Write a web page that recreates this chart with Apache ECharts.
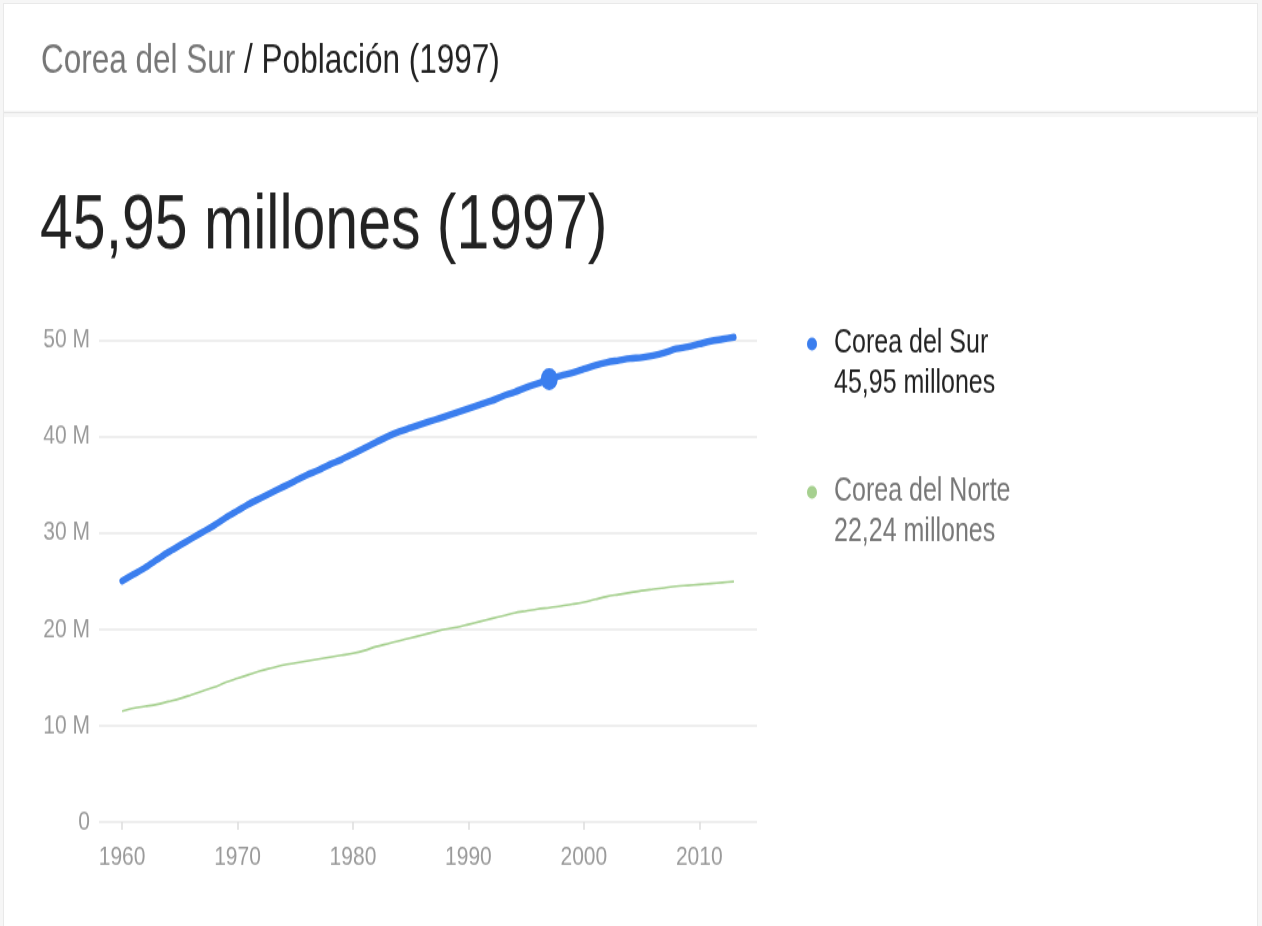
<!DOCTYPE html>
<html>
<head>
<meta charset="utf-8">
<title>Corea del Sur / Población (1997)</title>
<script src="https://cdn.jsdelivr.net/npm/echarts@6/dist/echarts.min.js"></script>
<style>
  html, body { margin: 0; padding: 0; background: #f6f6f6; overflow: hidden; }
  #card {
    position: absolute; left: 3px; top: 3px; width: 1255px; height: 940px;
    background: #ffffff; border: 1px solid #e9e9e9; box-sizing: border-box;
  }
  /* the card is drawn in a 712px tall space and shown 926px tall */
  #chart {
    position: absolute; left: 0; top: 0; width: 1262px; height: 712px;
    transform: scaleY(1.3006); transform-origin: 0 0;
  }
</style>
</head>
<body>
<div id="card"></div>
<div id="chart"></div>
<script>
// Population in millions, one value per year from 1960 to 2013
const years = [
  1960, 1961, 1962, 1963, 1964, 1965, 1966, 1967, 1968, 1969,
  1970, 1971, 1972, 1973, 1974, 1975, 1976, 1977, 1978, 1979,
  1980, 1981, 1982, 1983, 1984, 1985, 1986, 1987, 1988, 1989,
  1990, 1991, 1992, 1993, 1994, 1995, 1996, 1997, 1998, 1999,
  2000, 2001, 2002, 2003, 2004, 2005, 2006, 2007, 2008, 2009,
  2010, 2011, 2012, 2013
];
const coreaDelSur = [
  25.0, 25.7, 26.4, 27.2, 28.0, 28.7, 29.4, 30.1, 30.8, 31.6,
  32.3, 33.0, 33.6, 34.2, 34.8, 35.4, 36.0, 36.5, 37.1, 37.6,
  38.2, 38.8, 39.4, 40.0, 40.5, 40.9, 41.3, 41.7, 42.1, 42.5,
  42.9, 43.3, 43.7, 44.2, 44.6, 45.1, 45.5, 45.95, 46.3, 46.6,
  47.0, 47.4, 47.7, 47.9, 48.1, 48.2, 48.4, 48.7, 49.1, 49.3,
  49.6, 49.9, 50.1, 50.3
];
const coreaDelNorte = [
  11.5, 11.8, 12.0, 12.2, 12.5, 12.8, 13.2, 13.6, 14.0, 14.5,
  14.9, 15.3, 15.7, 16.0, 16.3, 16.5, 16.7, 16.9, 17.1, 17.3,
  17.5, 17.8, 18.2, 18.5, 18.8, 19.1, 19.4, 19.7, 20.0, 20.2,
  20.5, 20.8, 21.1, 21.4, 21.7, 21.9, 22.1, 22.24, 22.4, 22.6,
  22.8, 23.1, 23.4, 23.6, 23.8, 24.0, 24.15, 24.3, 24.45, 24.55,
  24.65, 24.75, 24.85, 24.95
];
const seriesNames = ['Corea del Sur', 'Corea del Norte'];
const yearTicks = [1960, 1970, 1980, 1990, 2000, 2010];
const selectedYear = 1997;

const FONT = '"Liberation Sans", Arial, Helvetica, sans-serif';
const BLUE = '#3b7eee';
const GREEN = '#a6d08f';

const sel = years.indexOf(selectedYear);
const fmt = v => v.toFixed(2).replace('.', ',');

const surData = years.map((y, i) =>
  i === sel
    ? { value: [y, coreaDelSur[i]], symbol: 'circle', symbolSize: 17 }
    : [y, coreaDelSur[i]]
);
const norteData = years.map((y, i) => [y, coreaDelNorte[i]]);

const legendValues = {
  [seriesNames[0]]: fmt(coreaDelSur[sel]) + ' millones',
  [seriesNames[1]]: fmt(coreaDelNorte[sel]) + ' millones'
};

const chart = echarts.init(document.getElementById('chart'), null, { renderer: 'canvas' });

const legendLine = { fontFamily: FONT, fontSize: 25, lineHeight: 31, padding: [0, 0, 0, 12] };

chart.setOption({
  animation: false,
  backgroundColor: 'transparent',
  textStyle: { fontFamily: FONT },
  title: [
    {
      left: 41, top: 31, padding: 0,
      text: '{a|' + seriesNames[0] + '}{b| / Población (' + selectedYear + ')}',
      textStyle: {
        fontWeight: 'normal',
        rich: {
          a: { fontFamily: FONT, fontSize: 31.5, fontWeight: 'normal', color: '#767676' },
          b: { fontFamily: FONT, fontSize: 31.5, fontWeight: 'normal', color: '#222222' }
        }
      }
    },
    {
      left: 40, top: 145, padding: 0,
      text: fmt(coreaDelSur[sel]) + ' millones (' + selectedYear + ')',
      textStyle: { fontFamily: FONT, fontSize: 59, fontWeight: 'normal', color: '#222222' }
    }
  ],
  graphic: [
    {
      type: 'line', silent: true,
      shape: { x1: 4, y1: 86.5, x2: 1258, y2: 86.5 },
      style: { stroke: '#e3e3e3', lineWidth: 1.5 }
    },
    {
      type: 'rect', silent: true,
      shape: { x: 4, y: 87.5, width: 1254, height: 2.5 },
      style: { fill: '#f6f6f6' }
    }
  ],
  legend: {
    orient: 'vertical',
    left: 807, top: 221,
    icon: 'circle',
    itemWidth: 10, itemHeight: 10,
    itemGap: 27,
    padding: 0,
    selectedMode: false,
    data: [
      { name: seriesNames[0], textStyle: { color: '#222222' } },
      { name: seriesNames[1], textStyle: { color: '#777777' } }
    ],
    formatter: name => '{s| }\n{n|' + name + '}\n{v|' + legendValues[name] + '}',
    textStyle: {
      fontFamily: FONT, fontSize: 25,
      rich: { s: legendLine, n: legendLine, v: legendLine }
    }
  },
  grid: { left: 99, right: 505, top: 261.5, bottom: 80 },
  xAxis: {
    type: 'value',
    min: 1958, max: 2015,
    axisLine: { show: false },
    splitLine: { show: false },
    axisTick: {
      show: true, length: 6, customValues: yearTicks,
      lineStyle: { color: '#dddddd', width: 1.5 }
    },
    axisLabel: {
      customValues: yearTicks,
      margin: 17,
      color: '#9a9a9a', fontSize: 21, fontFamily: FONT,
      formatter: v => String(v)
    }
  },
  yAxis: {
    type: 'value',
    min: 0, max: 50, interval: 10,
    axisLine: { show: false },
    axisTick: { show: false },
    splitLine: { lineStyle: { color: '#e9e9e9', width: 1.5 } },
    axisLabel: {
      margin: 9,
      color: '#9a9a9a', fontSize: 21, fontFamily: FONT,
      formatter: v => (v === 0 ? '0' : v + ' M')
    }
  },
  series: [
    {
      name: seriesNames[1],
      type: 'line',
      data: norteData,
      symbol: 'none',
      smooth: 0.3,
      clip: false,
      color: GREEN,
      lineStyle: { color: GREEN, width: 1.6 },
      z: 2
    },
    {
      name: seriesNames[0],
      type: 'line',
      data: surData,
      symbol: 'none',
      showSymbol: true,
      smooth: 0.3,
      clip: false,
      color: BLUE,
      itemStyle: { color: BLUE },
      lineStyle: { color: BLUE, width: 5.4, cap: 'round', join: 'round' },
      z: 3
    }
  ]
});
</script>
</body>
</html>
